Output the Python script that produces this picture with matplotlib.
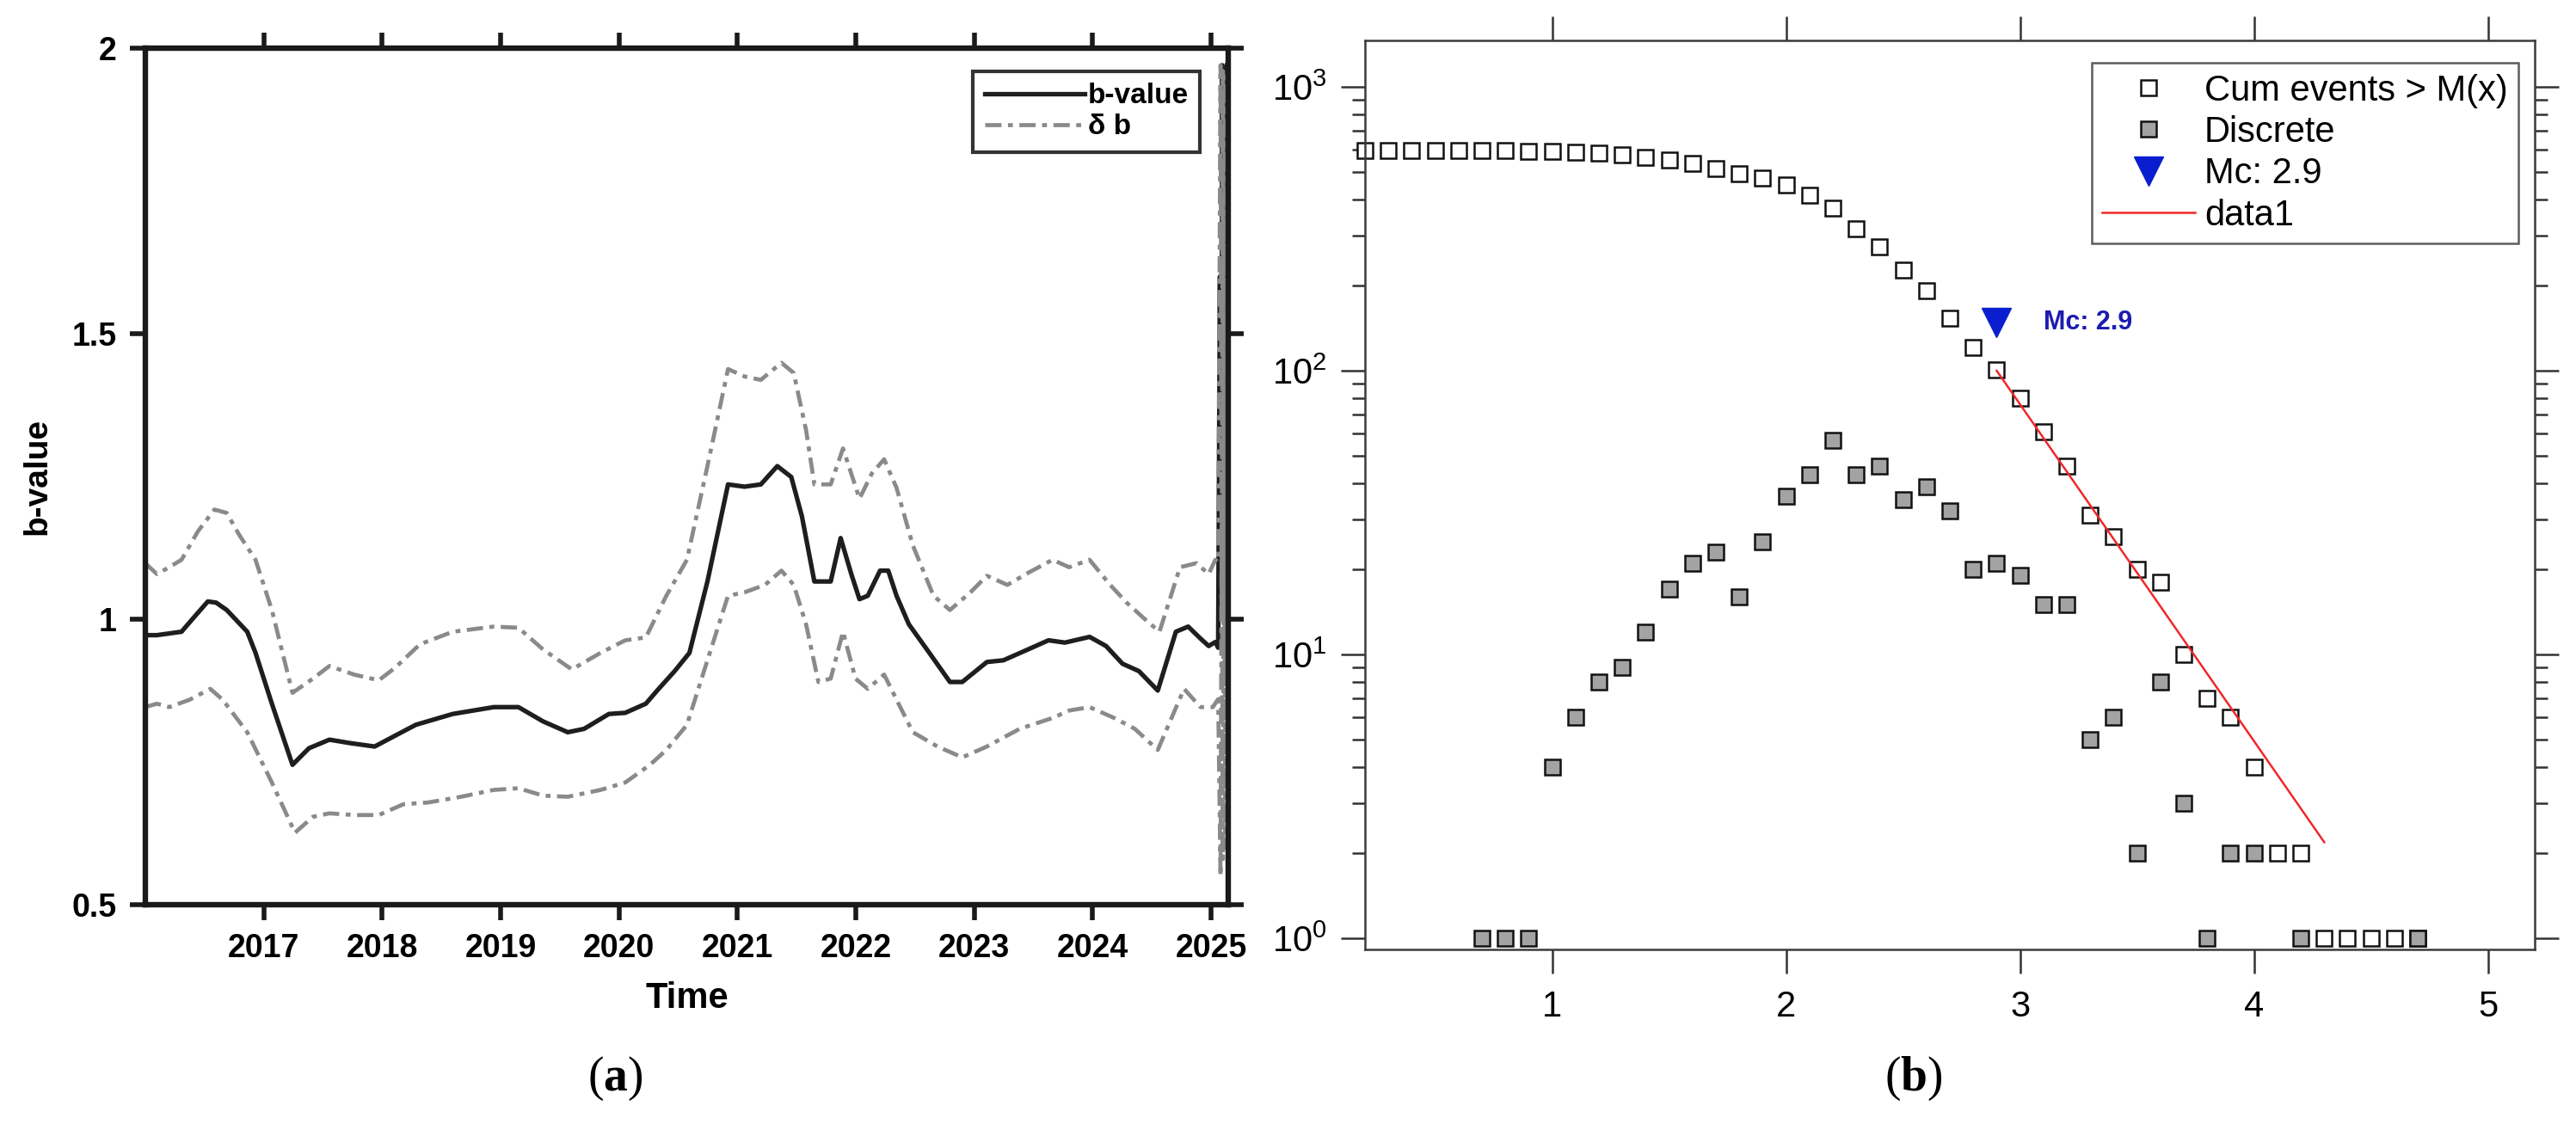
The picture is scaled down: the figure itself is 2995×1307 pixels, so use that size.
import matplotlib
matplotlib.use("Agg")
import matplotlib.pyplot as plt
from matplotlib.ticker import LogLocator, NullFormatter

plt.rcParams["font.family"] = ["Liberation Sans", "DejaVu Sans"]
plt.rcParams["mathtext.fontset"] = "custom"
plt.rcParams["mathtext.rm"] = "Liberation Serif"
plt.rcParams["mathtext.bf"] = "Liberation Serif:bold"

# ---- (a) b-value through time (decimal years) ----
b_time = [2016.0, 2016.098, 2016.306, 2016.41, 2016.528, 2016.598, 2016.688, 2016.861,
          2016.931, 2017.069, 2017.243, 2017.382, 2017.555, 2017.729, 2017.937, 2018.11,
          2018.284, 2018.596, 2018.943, 2019.151, 2019.359, 2019.568, 2019.706, 2019.915,
          2020.053, 2020.227, 2020.331, 2020.47, 2020.595, 2020.747, 2020.921, 2021.06,
          2021.198, 2021.337, 2021.455, 2021.545, 2021.65, 2021.788, 2021.872, 2021.962,
          2022.031, 2022.101, 2022.205, 2022.274, 2022.344, 2022.448, 2022.621, 2022.795,
          2022.899, 2023.107, 2023.246, 2023.454, 2023.627, 2023.766, 2023.974, 2024.113,
          2024.252, 2024.391, 2024.55, 2024.703, 2024.807, 2024.911, 2024.98, 2025.036,
          2025.06, 2025.075, 2025.085, 2025.095, 2025.105, 2025.115, 2025.125, 2025.135]
b_value = [0.972, 0.972, 0.978, 1.003, 1.031, 1.029, 1.016, 0.978,
           0.941, 0.852, 0.745, 0.774, 0.789, 0.783, 0.777, 0.796,
           0.815, 0.834, 0.846, 0.846, 0.821, 0.802, 0.808, 0.834,
           0.836, 0.852, 0.877, 0.909, 0.941, 1.066, 1.236, 1.232,
           1.236, 1.268, 1.249, 1.18, 1.066, 1.066, 1.142, 1.079,
           1.035, 1.041, 1.085, 1.085, 1.041, 0.991, 0.941, 0.89,
           0.89, 0.925, 0.928, 0.947, 0.963, 0.959, 0.969, 0.953,
           0.922, 0.909, 0.875, 0.978, 0.987, 0.966, 0.953, 0.96,
           0.95, 1.6, 1.0, 1.97, 1.2, 1.95, 1.58, 1.97]

db_up_time = [2016.0, 2016.098, 2016.202, 2016.306, 2016.445, 2016.584, 2016.688, 2016.792,
              2016.931, 2017.069, 2017.243, 2017.416, 2017.555, 2017.763, 2017.972, 2018.11,
              2018.319, 2018.596, 2018.943, 2019.151, 2019.359, 2019.602, 2019.845, 2020.053,
              2020.227, 2020.4, 2020.574, 2020.747, 2020.921, 2021.06, 2021.198, 2021.372,
              2021.476, 2021.58, 2021.65, 2021.788, 2021.892, 2022.031, 2022.135, 2022.239,
              2022.344, 2022.482, 2022.656, 2022.795, 2022.968, 2023.107, 2023.28, 2023.454,
              2023.662, 2023.801, 2023.974, 2024.148, 2024.287, 2024.425, 2024.564, 2024.738,
              2024.876, 2024.98, 2025.036,
              2025.06, 2025.08, 2025.09, 2025.10, 2025.11, 2025.12, 2025.13, 2025.14]
db_upper = [1.098, 1.079, 1.091, 1.104, 1.154, 1.192, 1.186, 1.148,
            1.104, 1.016, 0.871, 0.896, 0.918, 0.903, 0.893, 0.915,
            0.956, 0.978, 0.987, 0.985, 0.947, 0.912, 0.941, 0.963,
            0.968, 1.041, 1.104, 1.268, 1.438, 1.425, 1.419, 1.449,
            1.431, 1.331, 1.236, 1.236, 1.299, 1.211, 1.255, 1.28,
            1.23, 1.129, 1.041, 1.016, 1.047, 1.076, 1.06, 1.081,
            1.104, 1.091, 1.104, 1.06, 1.029, 1.003, 0.978, 1.091,
            1.098, 1.079, 1.104,
            1.1, 1.97, 1.0, 1.96, 0.9, 1.95, 1.0, 1.9]

db_low_time = [2016.0, 2016.098, 2016.202, 2016.375, 2016.549, 2016.653, 2016.861, 2017.069,
               2017.264, 2017.416, 2017.555, 2017.763, 2017.972, 2018.18, 2018.388, 2018.666,
               2018.943, 2019.151, 2019.359, 2019.568, 2019.845, 2020.053, 2020.262, 2020.4,
               2020.574, 2020.747, 2020.921, 2021.06, 2021.233, 2021.372, 2021.476, 2021.58,
               2021.684, 2021.788, 2021.892, 2021.997, 2022.101, 2022.239, 2022.344, 2022.482,
               2022.69, 2022.899, 2023.107, 2023.384, 2023.662, 2023.801, 2023.974, 2024.182,
               2024.356, 2024.55, 2024.772, 2024.911, 2025.015,
               2025.06, 2025.08, 2025.09, 2025.10, 2025.11, 2025.12, 2025.13, 2025.14]
db_lower = [0.846, 0.852, 0.846, 0.859, 0.878, 0.859, 0.802, 0.714,
            0.626, 0.654, 0.66, 0.657, 0.657, 0.676, 0.679, 0.689,
            0.701, 0.704, 0.691, 0.689, 0.701, 0.714, 0.745, 0.771,
            0.815, 0.928, 1.041, 1.047, 1.06, 1.085, 1.06, 0.991,
            0.89, 0.896, 0.978, 0.896, 0.878, 0.903, 0.859, 0.802,
            0.777, 0.758, 0.777, 0.808, 0.827, 0.84, 0.846, 0.827,
            0.808, 0.771, 0.878, 0.846, 0.846,
            0.86, 0.55, 1.2, 0.58, 1.5, 0.6, 1.3, 0.56]

years = [2017, 2018, 2019, 2020, 2021, 2022, 2023, 2024, 2025]

# ---- (b) frequency-magnitude distribution ----
mag_cum = [0.2, 0.3, 0.4, 0.5, 0.6, 0.7, 0.8, 0.9, 1.0, 1.1, 1.2, 1.3, 1.4, 1.5, 1.6,
           1.7, 1.8, 1.9, 2.0, 2.1, 2.2, 2.3, 2.4, 2.5, 2.6, 2.7, 2.8, 2.9, 3.0, 3.1,
           3.2, 3.3, 3.4, 3.5, 3.6, 3.7, 3.8, 3.9, 4.0, 4.1, 4.2, 4.3, 4.4, 4.5, 4.6, 4.7]
cum_events = [596, 596, 596, 596, 596, 596, 595, 594, 593, 589, 583, 575, 566, 554, 537,
              516, 493, 477, 452, 416, 373, 316, 273, 227, 192, 153, 121, 101, 80, 61,
              46, 31, 26, 20, 18, 10, 7, 6, 4, 2, 2, 1, 1, 1, 1, 1]
mag_disc = [0.7, 0.8, 0.9, 1.0, 1.1, 1.2, 1.3, 1.4, 1.5, 1.6, 1.7, 1.8, 1.9, 2.0, 2.1,
            2.2, 2.3, 2.4, 2.5, 2.6, 2.7, 2.8, 2.9, 3.0, 3.1, 3.2, 3.3, 3.4, 3.5, 3.6,
            3.7, 3.8, 3.9, 4.0, 4.2, 4.7]
disc_events = [1, 1, 1, 4, 6, 8, 9, 12, 17, 21, 23, 16, 25, 36, 43,
               57, 43, 46, 35, 39, 32, 20, 21, 19, 15, 15, 5, 6, 2, 8,
               3, 1, 2, 2, 1, 1]
mc_mag = 2.9
mc_count = 148
fit_mag = [2.9, 4.3]
fit_count = [100, 2.18]

fig = plt.figure(figsize=(29.95, 13.07), dpi=100)

# ---------------- panel (a) ----------------
ax1 = fig.add_axes([0.0564, 0.1951, 0.4204, 0.7621])
ax1.plot(b_time, b_value, color="#1e1e1e", lw=3.8, label="b-value")
ax1.plot(db_up_time, db_upper, color="#8a8a8a", lw=3.4, dashes=(4, 1.6, 1.2, 1.6), label="δ b")
ax1.plot(db_low_time, db_lower, color="#8a8a8a", lw=3.4, dashes=(4, 1.6, 1.2, 1.6))
ax1.set_xlim(2016.0, 2025.145)
ax1.set_ylim(0.5, 2)
ax1.set_xticks(years, [str(y) for y in years], fontweight="bold")
ax1.set_yticks([0.5, 1, 1.5, 2], ["0.5", "1", "1.5", "2"], fontweight="bold")
ax1.tick_params(direction="out", length=13, width=4, top=True, right=True,
                labelsize=27, color="#1a1a1a")
ax1.tick_params(axis="x", pad=11)
ax1.tick_params(axis="y", pad=11)
for s in ax1.spines.values():
    s.set_linewidth(4.6)
    s.set_color("#1a1a1a")
ax1.set_xlabel("Time", fontsize=30, fontweight="bold", labelpad=14)
ax1.set_ylabel("b-value", fontsize=28, fontweight="bold", labelpad=16)
leg1 = ax1.legend(loc="upper right", bbox_to_anchor=(0.974, 0.973), borderaxespad=0,
                  prop={"weight": "bold", "size": 24}, handlelength=3.5,
                  handletextpad=0.1, labelspacing=0.15, borderpad=0.4, fancybox=False)
leg1.get_frame().set_edgecolor("black")
leg1.get_frame().set_linewidth(3.0)

# ---------------- panel (b) ----------------
ax2 = fig.add_axes([0.5299, 0.1553, 0.4541, 0.8087])
ax2.set_yscale("log")
ax2.plot(mag_cum, cum_events, "s", ms=13.5, mfc="white", mec="#111111", mew=1.8,
         clip_on=False, label="Cum events > M(x)")
ax2.plot(mag_disc, disc_events, "s", ms=13.5, mfc="#a3a3a3", mec="#111111", mew=1.8,
         clip_on=False, label="Discrete")
ax2.plot([mc_mag], [mc_count], "v", ms=24, color="#0a1ed0", label="Mc: 2.9")
ax2.plot(fit_mag, fit_count, color="#f02828", lw=1.8, label="data1")
ax2.text(3.1, mc_count, "Mc: 2.9", color="#1c1cb0", fontsize=22, fontweight="bold",
         va="center", ha="left")
ax2.set_xlim(0.2, 5.2)
ax2.set_ylim(0.913, 1458)
ax2.set_xticks([1, 2, 3, 4, 5], ["1", "2", "3", "4", "5"])
ax2.yaxis.set_minor_locator(LogLocator(base=10, subs=[2, 3, 4, 5, 6, 7, 8, 9]))
ax2.yaxis.set_minor_formatter(NullFormatter())
ax2.tick_params(which="major", direction="out", length=20, width=1.8, top=True, right=True,
                labelsize=30, color="#333333")
ax2.tick_params(which="minor", direction="out", length=11, width=1.8, right=True,
                color="#333333")
ax2.tick_params(axis="x", pad=14)
ax2.tick_params(axis="y", pad=12)
for s in ax2.spines.values():
    s.set_linewidth(1.8)
    s.set_color("#3a3a3a")
leg2 = ax2.legend(loc="upper right", bbox_to_anchor=(0.986, 0.9754), borderaxespad=0,
                  fontsize=30, handlelength=2.6, handletextpad=0.25, labelspacing=0.2,
                  borderpad=0.3, fancybox=False, numpoints=1)
leg2.get_frame().set_edgecolor("#333333")
leg2.get_frame().set_linewidth(1.8)

fig.text(0.2387, 0.04, r"$\mathrm{(}\mathbf{a}\mathrm{)}$", fontsize=40, ha="center", va="center")
fig.text(0.7429, 0.04, r"$\mathrm{(}\mathbf{b}\mathrm{)}$", fontsize=40, ha="center", va="center")

fig.savefig("out.png", dpi=100)
